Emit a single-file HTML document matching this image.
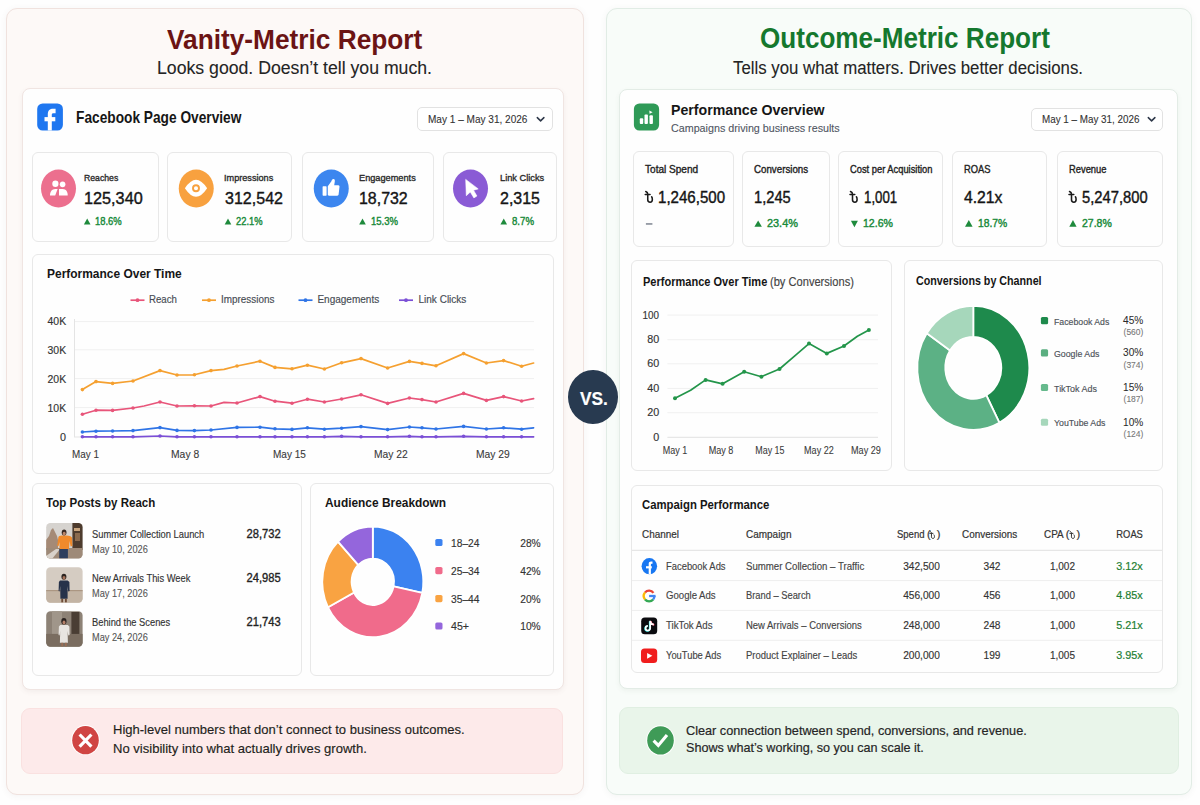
<!DOCTYPE html>
<html><head><meta charset="utf-8">
<style>
html,body{margin:0;padding:0}
body{width:1200px;height:805px;position:relative;overflow:hidden;background:#fefefe;font-family:"Liberation Sans",sans-serif}
.a{position:absolute;box-sizing:border-box}
.t{position:absolute;white-space:pre;font-family:"Liberation Sans",sans-serif}
</style></head><body>
<div class="a" style="left:5.50px;top:7.60px;width:578.60px;height:787.20px;border-radius:11px;background:#fdf9f7;border:1px solid #f0e2de;box-shadow:0 1px 6px rgba(110,100,100,0.07);"></div>
<div class="a" style="left:605.75px;top:8.00px;width:586.35px;height:786.80px;border-radius:11px;background:#f8fcf9;border:1px solid #e1ece5;box-shadow:0 1px 6px rgba(100,110,100,0.07);"></div>
<div class="a" style="left:22.25px;top:88.25px;width:541.45px;height:601.55px;border-radius:8px;background:#fefefe;border:1px solid #f0e5e2;box-shadow:0 2px 5px rgba(120,90,90,0.07);"></div>
<div class="a" style="left:618.75px;top:88.50px;width:558.75px;height:600.50px;border-radius:8px;background:#fefefe;border:1px solid #e3ece6;box-shadow:0 2px 5px rgba(90,120,90,0.07);"></div>
<div class="a" style="left:416.50px;top:107.25px;width:136.50px;height:23.75px;border-radius:5px;background:#fff;border:1px solid #e2e2e2;"></div>
<div class="a" style="left:1030.90px;top:107.90px;width:132.20px;height:22.90px;border-radius:5px;background:#fff;border:1px solid #e2e2e2;"></div>
<div class="a" style="left:32.20px;top:151.80px;width:127.30px;height:90.70px;border-radius:6px;background:#fefefe;border:1px solid #e8e8e8;"></div>
<div class="a" style="left:167.20px;top:151.80px;width:125.00px;height:90.70px;border-radius:6px;background:#fefefe;border:1px solid #e8e8e8;"></div>
<div class="a" style="left:301.50px;top:151.80px;width:132.70px;height:90.70px;border-radius:6px;background:#fefefe;border:1px solid #e8e8e8;"></div>
<div class="a" style="left:442.80px;top:151.80px;width:114.40px;height:90.70px;border-radius:6px;background:#fefefe;border:1px solid #e8e8e8;"></div>
<div class="a" style="left:632.80px;top:151.00px;width:101.70px;height:95.80px;border-radius:6px;background:#fefefe;border:1px solid #e8e8e8;"></div>
<div class="a" style="left:742.00px;top:151.00px;width:87.50px;height:95.80px;border-radius:6px;background:#fefefe;border:1px solid #e8e8e8;"></div>
<div class="a" style="left:838.00px;top:151.00px;width:104.50px;height:95.80px;border-radius:6px;background:#fefefe;border:1px solid #e8e8e8;"></div>
<div class="a" style="left:952.00px;top:151.00px;width:95.00px;height:95.80px;border-radius:6px;background:#fefefe;border:1px solid #e8e8e8;"></div>
<div class="a" style="left:1056.50px;top:151.00px;width:106.30px;height:95.80px;border-radius:6px;background:#fefefe;border:1px solid #e8e8e8;"></div>
<div class="a" style="left:32.00px;top:253.75px;width:521.90px;height:219.75px;border-radius:6px;background:#fefefe;border:1px solid #e8e8e8;"></div>
<div class="a" style="left:32.20px;top:483.30px;width:269.70px;height:192.70px;border-radius:6px;background:#fefefe;border:1px solid #e8e8e8;"></div>
<div class="a" style="left:309.80px;top:483.30px;width:244.10px;height:192.80px;border-radius:6px;background:#fefefe;border:1px solid #e8e8e8;"></div>
<div class="a" style="left:631.20px;top:260.30px;width:261.20px;height:210.40px;border-radius:6px;background:#fefefe;border:1px solid #e8e8e8;"></div>
<div class="a" style="left:903.60px;top:260.30px;width:259.20px;height:210.40px;border-radius:6px;background:#fefefe;border:1px solid #e8e8e8;"></div>
<div class="a" style="left:631.20px;top:485.10px;width:531.60px;height:188.30px;border-radius:6px;background:#fefefe;border:1px solid #e8e8e8;"></div>
<div class="a" style="left:21.30px;top:707.50px;width:542.20px;height:66.75px;border-radius:9px;background:#fdeaea;border:1px solid #fae1e0;"></div>
<div class="a" style="left:618.75px;top:707.00px;width:560.15px;height:66.80px;border-radius:9px;background:#e9f5ea;border:1px solid #e0efe2;"></div>
<div class="a" style="left:567.90px;top:370.30px;width:49.70px;height:54.00px;border-radius:50%;background:#283a50;"></div>
<svg class="a" style="left:0;top:0" width="1200" height="805" viewBox="0 0 1200 805"><line x1="75" y1="321.6" x2="534" y2="321.6" stroke="#f0f0f0" stroke-width="1"/><line x1="75" y1="349.8" x2="534" y2="349.8" stroke="#f0f0f0" stroke-width="1"/><line x1="75" y1="378.6" x2="534" y2="378.6" stroke="#f0f0f0" stroke-width="1"/><line x1="75" y1="407.6" x2="534" y2="407.6" stroke="#f0f0f0" stroke-width="1"/><line x1="75" y1="437" x2="534" y2="437" stroke="#e4e4e4" stroke-width="1"/><line x1="74.5" y1="319" x2="74.5" y2="437.5" stroke="#e4e4e4" stroke-width="1"/><polyline points="82.4,389.6 96.0,381.6 112.6,383.4 133.0,381.0 160.0,370.6 177.0,375.0 194.4,374.8 211.0,370.6 224.0,369.4 237.0,366.0 260.0,361.2 275.0,367.4 292.0,368.8 307.4,365.2 324.4,369.0 341.6,362.8 361.0,358.6 387.6,368.0 409.4,361.4 422.0,363.4 436.0,365.8 463.6,353.6 486.4,363.0 503.6,360.6 521.6,366.2 533.6,363.0" fill="none" stroke="#f5a030" stroke-width="1.7" stroke-linejoin="round" stroke-linecap="round"/><circle cx="82.4" cy="389.6" r="1.8" fill="#f5a030"/><circle cx="96.0" cy="381.6" r="1.8" fill="#f5a030"/><circle cx="112.6" cy="383.4" r="1.8" fill="#f5a030"/><circle cx="133.0" cy="381.0" r="1.8" fill="#f5a030"/><circle cx="160.0" cy="370.6" r="1.8" fill="#f5a030"/><circle cx="177.0" cy="375.0" r="1.8" fill="#f5a030"/><circle cx="194.4" cy="374.8" r="1.8" fill="#f5a030"/><circle cx="211.0" cy="370.6" r="1.8" fill="#f5a030"/><circle cx="237.0" cy="366.0" r="1.8" fill="#f5a030"/><circle cx="260.0" cy="361.2" r="1.8" fill="#f5a030"/><circle cx="275.0" cy="367.4" r="1.8" fill="#f5a030"/><circle cx="292.0" cy="368.8" r="1.8" fill="#f5a030"/><circle cx="307.4" cy="365.2" r="1.8" fill="#f5a030"/><circle cx="324.4" cy="369.0" r="1.8" fill="#f5a030"/><circle cx="341.6" cy="362.8" r="1.8" fill="#f5a030"/><circle cx="361.0" cy="358.6" r="1.8" fill="#f5a030"/><circle cx="387.6" cy="368.0" r="1.8" fill="#f5a030"/><circle cx="409.4" cy="361.4" r="1.8" fill="#f5a030"/><circle cx="422.0" cy="363.4" r="1.8" fill="#f5a030"/><circle cx="436.0" cy="365.8" r="1.8" fill="#f5a030"/><circle cx="463.6" cy="353.6" r="1.8" fill="#f5a030"/><circle cx="486.4" cy="363.0" r="1.8" fill="#f5a030"/><circle cx="503.6" cy="360.6" r="1.8" fill="#f5a030"/><circle cx="521.6" cy="366.2" r="1.8" fill="#f5a030"/><polyline points="82.4,414.2 96.0,410.2 112.6,410.4 133.0,408.0 144.0,406.0 160.0,402.0 177.0,406.0 194.4,405.8 211.0,406.0 224.0,402.4 237.0,403.0 260.0,396.6 275.0,401.2 292.0,403.2 307.4,399.2 324.4,402.0 341.6,399.0 361.0,394.8 387.6,403.4 409.4,398.0 422.0,399.6 436.0,402.0 463.6,393.4 486.4,400.4 503.6,396.6 521.6,401.0 533.6,398.6" fill="none" stroke="#e8557a" stroke-width="1.7" stroke-linejoin="round" stroke-linecap="round"/><circle cx="82.4" cy="414.2" r="1.8" fill="#e8557a"/><circle cx="96.0" cy="410.2" r="1.8" fill="#e8557a"/><circle cx="112.6" cy="410.4" r="1.8" fill="#e8557a"/><circle cx="133.0" cy="408.0" r="1.8" fill="#e8557a"/><circle cx="160.0" cy="402.0" r="1.8" fill="#e8557a"/><circle cx="177.0" cy="406.0" r="1.8" fill="#e8557a"/><circle cx="194.4" cy="405.8" r="1.8" fill="#e8557a"/><circle cx="211.0" cy="406.0" r="1.8" fill="#e8557a"/><circle cx="237.0" cy="403.0" r="1.8" fill="#e8557a"/><circle cx="260.0" cy="396.6" r="1.8" fill="#e8557a"/><circle cx="275.0" cy="401.2" r="1.8" fill="#e8557a"/><circle cx="292.0" cy="403.2" r="1.8" fill="#e8557a"/><circle cx="307.4" cy="399.2" r="1.8" fill="#e8557a"/><circle cx="324.4" cy="402.0" r="1.8" fill="#e8557a"/><circle cx="341.6" cy="399.0" r="1.8" fill="#e8557a"/><circle cx="361.0" cy="394.8" r="1.8" fill="#e8557a"/><circle cx="387.6" cy="403.4" r="1.8" fill="#e8557a"/><circle cx="409.4" cy="398.0" r="1.8" fill="#e8557a"/><circle cx="422.0" cy="399.6" r="1.8" fill="#e8557a"/><circle cx="436.0" cy="402.0" r="1.8" fill="#e8557a"/><circle cx="463.6" cy="393.4" r="1.8" fill="#e8557a"/><circle cx="486.4" cy="400.4" r="1.8" fill="#e8557a"/><circle cx="503.6" cy="396.6" r="1.8" fill="#e8557a"/><circle cx="521.6" cy="401.0" r="1.8" fill="#e8557a"/><polyline points="82.4,432.0 96.0,431.2 112.6,431.0 133.0,430.6 160.0,427.6 177.0,430.4 194.4,430.6 211.0,430.0 237.0,427.4 260.0,427.2 275.0,428.8 292.0,429.4 307.4,427.8 324.4,429.2 341.6,428.2 361.0,426.6 387.6,429.6 409.4,427.0 422.0,427.8 436.0,429.0 463.6,426.4 486.4,429.0 503.6,427.8 521.6,429.2 533.6,427.8" fill="none" stroke="#2f74e6" stroke-width="1.7" stroke-linejoin="round" stroke-linecap="round"/><circle cx="82.4" cy="432.0" r="1.8" fill="#2f74e6"/><circle cx="96.0" cy="431.2" r="1.8" fill="#2f74e6"/><circle cx="112.6" cy="431.0" r="1.8" fill="#2f74e6"/><circle cx="133.0" cy="430.6" r="1.8" fill="#2f74e6"/><circle cx="160.0" cy="427.6" r="1.8" fill="#2f74e6"/><circle cx="177.0" cy="430.4" r="1.8" fill="#2f74e6"/><circle cx="194.4" cy="430.6" r="1.8" fill="#2f74e6"/><circle cx="211.0" cy="430.0" r="1.8" fill="#2f74e6"/><circle cx="237.0" cy="427.4" r="1.8" fill="#2f74e6"/><circle cx="260.0" cy="427.2" r="1.8" fill="#2f74e6"/><circle cx="275.0" cy="428.8" r="1.8" fill="#2f74e6"/><circle cx="292.0" cy="429.4" r="1.8" fill="#2f74e6"/><circle cx="307.4" cy="427.8" r="1.8" fill="#2f74e6"/><circle cx="324.4" cy="429.2" r="1.8" fill="#2f74e6"/><circle cx="341.6" cy="428.2" r="1.8" fill="#2f74e6"/><circle cx="361.0" cy="426.6" r="1.8" fill="#2f74e6"/><circle cx="387.6" cy="429.6" r="1.8" fill="#2f74e6"/><circle cx="409.4" cy="427.0" r="1.8" fill="#2f74e6"/><circle cx="422.0" cy="427.8" r="1.8" fill="#2f74e6"/><circle cx="436.0" cy="429.0" r="1.8" fill="#2f74e6"/><circle cx="463.6" cy="426.4" r="1.8" fill="#2f74e6"/><circle cx="486.4" cy="429.0" r="1.8" fill="#2f74e6"/><circle cx="503.6" cy="427.8" r="1.8" fill="#2f74e6"/><circle cx="521.6" cy="429.2" r="1.8" fill="#2f74e6"/><polyline points="82.4,436.8 96.0,436.8 112.6,436.8 133.0,436.8 160.0,436.0 177.0,436.8 194.4,436.8 211.0,436.8 237.0,436.8 260.0,436.8 275.0,436.8 292.0,436.8 307.4,436.8 324.4,436.8 341.6,436.3 361.0,436.8 387.6,436.8 409.4,436.3 422.0,436.8 436.0,436.8 463.6,436.3 486.4,436.8 503.6,436.8 521.6,436.8 533.6,436.8" fill="none" stroke="#7b4fd6" stroke-width="1.7" stroke-linejoin="round" stroke-linecap="round"/><circle cx="82.4" cy="436.8" r="1.8" fill="#7b4fd6"/><circle cx="96.0" cy="436.8" r="1.8" fill="#7b4fd6"/><circle cx="112.6" cy="436.8" r="1.8" fill="#7b4fd6"/><circle cx="133.0" cy="436.8" r="1.8" fill="#7b4fd6"/><circle cx="160.0" cy="436.0" r="1.8" fill="#7b4fd6"/><circle cx="177.0" cy="436.8" r="1.8" fill="#7b4fd6"/><circle cx="194.4" cy="436.8" r="1.8" fill="#7b4fd6"/><circle cx="211.0" cy="436.8" r="1.8" fill="#7b4fd6"/><circle cx="237.0" cy="436.8" r="1.8" fill="#7b4fd6"/><circle cx="260.0" cy="436.8" r="1.8" fill="#7b4fd6"/><circle cx="275.0" cy="436.8" r="1.8" fill="#7b4fd6"/><circle cx="292.0" cy="436.8" r="1.8" fill="#7b4fd6"/><circle cx="307.4" cy="436.8" r="1.8" fill="#7b4fd6"/><circle cx="324.4" cy="436.8" r="1.8" fill="#7b4fd6"/><circle cx="341.6" cy="436.3" r="1.8" fill="#7b4fd6"/><circle cx="361.0" cy="436.8" r="1.8" fill="#7b4fd6"/><circle cx="387.6" cy="436.8" r="1.8" fill="#7b4fd6"/><circle cx="409.4" cy="436.3" r="1.8" fill="#7b4fd6"/><circle cx="422.0" cy="436.8" r="1.8" fill="#7b4fd6"/><circle cx="436.0" cy="436.8" r="1.8" fill="#7b4fd6"/><circle cx="463.6" cy="436.3" r="1.8" fill="#7b4fd6"/><circle cx="486.4" cy="436.8" r="1.8" fill="#7b4fd6"/><circle cx="503.6" cy="436.8" r="1.8" fill="#7b4fd6"/><circle cx="521.6" cy="436.8" r="1.8" fill="#7b4fd6"/><line x1="130.5" y1="300.2" x2="144.5" y2="300.2" stroke="#e8557a" stroke-width="1.7"/><circle cx="137.5" cy="300.2" r="1.9" fill="#e8557a"/><line x1="202" y1="300.2" x2="216" y2="300.2" stroke="#f5a030" stroke-width="1.7"/><circle cx="209" cy="300.2" r="1.9" fill="#f5a030"/><line x1="298.5" y1="300.2" x2="312.5" y2="300.2" stroke="#2f74e6" stroke-width="1.7"/><circle cx="305.5" cy="300.2" r="1.9" fill="#2f74e6"/><line x1="399" y1="300.2" x2="413" y2="300.2" stroke="#7b4fd6" stroke-width="1.7"/><circle cx="406" cy="300.2" r="1.9" fill="#7b4fd6"/><line x1="667.4" y1="315.1" x2="878" y2="315.1" stroke="#f0f0f0" stroke-width="1"/><line x1="667.4" y1="339.7" x2="878" y2="339.7" stroke="#f0f0f0" stroke-width="1"/><line x1="667.4" y1="363.8" x2="878" y2="363.8" stroke="#f0f0f0" stroke-width="1"/><line x1="667.4" y1="388.4" x2="878" y2="388.4" stroke="#f0f0f0" stroke-width="1"/><line x1="667.4" y1="412.7" x2="878" y2="412.7" stroke="#f0f0f0" stroke-width="1"/><line x1="667.4" y1="437.3" x2="878" y2="437.3" stroke="#e2e2e2" stroke-width="1"/><polyline points="675.0,398.2 690.6,390.3 705.6,379.9 722.6,383.8 744.2,371.7 761.4,376.7 779.5,369.0 794.5,356.1 809.0,343.6 826.8,353.4 844.0,346.0 857.4,336.2 868.9,329.9" fill="none" stroke="#23954a" stroke-width="1.7" stroke-linejoin="round" stroke-linecap="round"/><circle cx="675.0" cy="398.2" r="2.0" fill="#23954a"/><circle cx="705.6" cy="379.9" r="2.0" fill="#23954a"/><circle cx="722.6" cy="383.8" r="2.0" fill="#23954a"/><circle cx="744.2" cy="371.7" r="2.0" fill="#23954a"/><circle cx="761.4" cy="376.7" r="2.0" fill="#23954a"/><circle cx="779.5" cy="369.0" r="2.0" fill="#23954a"/><circle cx="809.0" cy="343.6" r="2.0" fill="#23954a"/><circle cx="826.8" cy="353.4" r="2.0" fill="#23954a"/><circle cx="844.0" cy="346.0" r="2.0" fill="#23954a"/><circle cx="868.9" cy="329.9" r="2.0" fill="#23954a"/><path d="M372.80,526.50 A50.5,55.3 0 0 1 422.29,592.83 L393.58,586.43 A21.21,23.226 0 0 0 372.80,558.57 Z" fill="#3b82f0" stroke="#fff" stroke-width="1.8" stroke-linejoin="miter"/><path d="M422.29,592.83 A50.5,55.3 0 0 1 328.01,607.33 L353.99,592.52 A21.21,23.226 0 0 0 393.58,586.43 Z" fill="#f06b8b" stroke="#fff" stroke-width="1.8" stroke-linejoin="miter"/><path d="M328.01,607.33 A50.5,55.3 0 0 1 338.04,541.69 L358.20,564.95 A21.21,23.226 0 0 0 353.99,592.52 Z" fill="#f9a342" stroke="#fff" stroke-width="1.8" stroke-linejoin="miter"/><path d="M338.04,541.69 A50.5,55.3 0 0 1 372.80,526.50 L372.80,558.57 A21.21,23.226 0 0 0 358.20,564.95 Z" fill="#9466dc" stroke="#fff" stroke-width="1.8" stroke-linejoin="miter"/><path d="M973.30,305.80 A56,62 0 0 1 999.33,422.69 L986.32,395.25 A28.0,31.0 0 0 0 973.30,336.80 Z" fill="#1e8a4c" stroke="#fff" stroke-width="1.8" stroke-linejoin="miter"/><path d="M999.33,422.69 A56,62 0 0 1 926.76,333.31 L950.03,350.55 A28.0,31.0 0 0 0 986.32,395.25 Z" fill="#5cb185" stroke="#fff" stroke-width="1.8" stroke-linejoin="miter"/><path d="M926.76,333.31 A56,62 0 0 1 973.30,305.80 L973.30,336.80 A28.0,31.0 0 0 0 950.03,350.55 Z" fill="#a6d7bb" stroke="#fff" stroke-width="1.8" stroke-linejoin="miter"/><rect x="435.3" y="538.9" width="7.2" height="7.2" rx="1.6" fill="#3b82f0"/><rect x="435.3" y="567.0" width="7.2" height="7.2" rx="1.6" fill="#f06b8b"/><rect x="435.3" y="595.0" width="7.2" height="7.2" rx="1.6" fill="#f9a342"/><rect x="435.3" y="622.4" width="7.2" height="7.2" rx="1.6" fill="#9466dc"/><rect x="1040.9" y="317.1" width="7.2" height="7.1" rx="1.5" fill="#1e8a4c"/><rect x="1040.9" y="349.3" width="7.2" height="7.1" rx="1.5" fill="#5aae80"/><rect x="1040.9" y="384.0" width="7.2" height="7.1" rx="1.5" fill="#66b98c"/><rect x="1040.9" y="418.7" width="7.2" height="7.1" rx="1.5" fill="#a6d7bb"/><ellipse cx="58.5" cy="188.5" rx="17.5" ry="19" fill="#ec6f8e"/><ellipse cx="196.25" cy="188.5" rx="17.5" ry="19" fill="#f8a13f"/><ellipse cx="331.25" cy="188.5" rx="17.5" ry="19" fill="#3c86ef"/><ellipse cx="470.5" cy="188.5" rx="17.5" ry="19" fill="#8a5bd5"/><line x1="632" y1="550.3" x2="1162" y2="550.3" stroke="#e6e6e6" stroke-width="1.2"/><line x1="632" y1="580.6" x2="1162" y2="580.6" stroke="#eeeeee" stroke-width="1"/><line x1="632" y1="610.4" x2="1162" y2="610.4" stroke="#eeeeee" stroke-width="1"/><line x1="632" y1="640.3" x2="1162" y2="640.3" stroke="#eeeeee" stroke-width="1"/><ellipse cx="85.5" cy="740.15" rx="14.3" ry="15.15" fill="#fff"/><ellipse cx="85.5" cy="740.15" rx="13.3" ry="14.15" fill="#d04543"/><path d="M79.6,734.5 L91.4,746.6 M91.4,734.5 L79.6,746.6" stroke="#fff" stroke-width="3.2" stroke-linecap="butt"/><ellipse cx="660.5" cy="740.4" rx="14.3" ry="15.2" fill="#fff"/><ellipse cx="660.5" cy="740.4" rx="13.3" ry="14.2" fill="#3f9b57"/><path d="M653.6,740.6 L658.3,745.4 L667,735" fill="none" stroke="#fff" stroke-width="3.1" stroke-linecap="butt" stroke-linejoin="miter"/><rect x="37.2" y="103.4" width="25.7" height="27.1" rx="5.5" fill="#1f77f0"/><path d="M47.8,130.5 L47.8,114.2 C47.8,110.6 49.9,108.8 53.2,108.8 L55.6,108.8 L55.6,113.3 L53.4,113.3 C52.3,113.3 51.8,113.8 51.8,114.8 L51.8,130.5 Z" fill="#fff"/><rect x="44.5" y="117.1" width="10.8" height="4.2" fill="#fff"/><ellipse cx="55.4" cy="183.7" rx="3.1" ry="3.2" fill="#fff"/><ellipse cx="62.6" cy="184.3" rx="2.8" ry="2.9" fill="#fff"/><path d="M50,195.4 C50,191.5 52,189 55.2,188.9 L57.6,188.9 L55.2,195.4 Z" fill="#fff"/><path d="M59,188.9 L62.8,188.9 C66,189 67.7,191.5 67.7,195.4 L59,195.4 Z" fill="#fff"/><path d="M184.9,188.3 Q196,171.3 207.1,188.3 Q196,205.3 184.9,188.3 Z" fill="#fff"/><circle cx="196" cy="188.3" r="3" fill="none" stroke="#f8a13f" stroke-width="1.9"/><rect x="322.6" y="186.3" width="4" height="9.4" rx="0.6" fill="#fff"/><path d="M327.8,186.2 L331.4,181.2 C331.9,179.6 332.6,178.9 333.6,179 C334.7,179.2 335,180.2 334.8,181.6 L334.2,185.2 L338.3,185.2 C339.3,185.2 339.6,186 339.5,186.8 L338.6,194.6 C338.5,195.3 338,195.7 337.3,195.7 L329,195.7 C328.3,195.7 327.8,195.2 327.8,194.5 Z" fill="#fff"/><path d="M465.7,179.4 L466.3,195.7 L470.3,192 L473.9,197.9 L476.9,196 L473.5,190.2 L478.2,188.9 Z" fill="#fff" stroke="#fff" stroke-width="0.6" stroke-linejoin="round"/><rect x="633.9" y="103.4" width="25.2" height="27.1" rx="5.5" fill="#2f9a57"/><rect x="639.8" y="118.3" width="3.4" height="5.7" rx="0.9" fill="#fff"/><rect x="644.5" y="114.5" width="3.4" height="9.5" rx="0.9" fill="#fff"/><rect x="649.5" y="115.3" width="3.4" height="8.7" rx="0.9" fill="#fff"/><path d="M649.3,110.6 L652.6,112.2 L649.6,113.8 Z" fill="#fff"/><path d="M537.3000000000001,117.6 L540.6,120.9 L543.9,117.6" fill="none" stroke="#2d3748" stroke-width="1.5" stroke-linecap="round" stroke-linejoin="round"/><path d="M1148.3,117.6 L1151.6,120.9 L1154.8999999999999,117.6" fill="none" stroke="#2d3748" stroke-width="1.5" stroke-linecap="round" stroke-linejoin="round"/><path d="M87.20,218.5 L90.5,224.5 L83.9,224.5 Z" fill="#1e8a3c"/><path d="M228.00,218.5 L231.3,224.5 L224.7,224.5 Z" fill="#1e8a3c"/><path d="M362.50,218.5 L365.8,224.5 L359.2,224.5 Z" fill="#1e8a3c"/><path d="M503.75,218.5 L507.05,224.5 L500.45,224.5 Z" fill="#1e8a3c"/><path d="M758.15,220.4 L761.9,226.7 L754.4,226.7 Z" fill="#1e8a3c"/><path d="M850.9,220.7 L857.9,220.7 L854.40,227.3 Z" fill="#1e8a3c"/><path d="M968.80,220.1 L972.6,226.7 L965,226.7 Z" fill="#1e8a3c"/><path d="M1072.95,220.1 L1076.6,226.7 L1069.3,226.7 Z" fill="#1e8a3c"/><rect x="645.9" y="223.3" width="6.5" height="1.3" fill="#6b7280"/><path d="M645.75,191.50 C646.85,191.99 647.75,192.69 647.75,194.08 L647.75,199.83 C647.75,201.61 648.75,202.20 650.15,202.20 C651.65,202.20 652.35,201.11 652.35,199.53 C652.35,198.14 652.05,197.35 651.65,196.85 M645.25,194.47 L650.05,194.47" fill="none" stroke="#1a1a1a" stroke-width="1.55" stroke-linecap="round"/><path d="M850.50,191.50 C851.60,191.99 852.50,192.69 852.50,194.08 L852.50,199.83 C852.50,201.61 853.50,202.20 854.90,202.20 C856.40,202.20 857.10,201.11 857.10,199.53 C857.10,198.14 856.80,197.35 856.40,196.85 M850.00,194.47 L854.80,194.47" fill="none" stroke="#1a1a1a" stroke-width="1.55" stroke-linecap="round"/><path d="M1069.50,191.50 C1070.60,191.99 1071.50,192.69 1071.50,194.08 L1071.50,199.83 C1071.50,201.61 1072.50,202.20 1073.90,202.20 C1075.40,202.20 1076.10,201.11 1076.10,199.53 C1076.10,198.14 1075.80,197.35 1075.40,196.85 M1069.00,194.47 L1073.80,194.47" fill="none" stroke="#1a1a1a" stroke-width="1.55" stroke-linecap="round"/><path d="M930.13,531.43 C930.85,531.75 931.44,532.20 931.44,533.10 L931.44,536.83 C931.44,537.99 932.10,538.38 933.02,538.38 C934.01,538.38 934.47,537.67 934.47,536.64 C934.47,535.74 934.27,535.23 934.01,534.90 M929.80,533.36 L932.96,533.36" fill="none" stroke="#333" stroke-width="1.0" stroke-linecap="round"/><path d="M1070.13,531.43 C1070.85,531.75 1071.44,532.20 1071.44,533.10 L1071.44,536.83 C1071.44,537.99 1072.10,538.38 1073.02,538.38 C1074.01,538.38 1074.47,537.67 1074.47,536.64 C1074.47,535.74 1074.27,535.23 1074.01,534.90 M1069.80,533.36 L1072.96,533.36" fill="none" stroke="#333" stroke-width="1.0" stroke-linecap="round"/><ellipse cx="649.35" cy="566.2" rx="7.75" ry="8.1" fill="#1877f2"/><path d="M648.7,574.3 L648.7,563.8 C648.7,562.3 649.6,561.6 651,561.6 L652.5,561.6 L652.5,563.7 L651.6,563.7 C651.1,563.7 650.9,564 650.9,564.5 L650.9,574.3 Z" fill="#fff"/><rect x="646" y="566.2" width="5.8" height="2.2" fill="#fff"/><path d="M645.04,592.59 A5.3,5.3 0 0 1 653.44,592.96" fill="none" stroke="#ea4335" stroke-width="2.3"/><path d="M645.04,599.41 A5.3,5.3 0 0 1 645.04,592.59" fill="none" stroke="#fbbc05" stroke-width="2.3"/><path d="M653.16,599.41 A5.3,5.3 0 0 1 645.04,599.41" fill="none" stroke="#34a853" stroke-width="2.3"/><path d="M654.40,596.00 A5.3,5.3 0 0 1 653.16,599.41" fill="none" stroke="#4285f4" stroke-width="2.3"/><rect x="649.1" y="594.85" width="6.449999999999999" height="2.3" fill="#4285f4"/><rect x="641.2" y="617.6" width="16" height="16.7" rx="3.6" fill="#0b0b0f"/><path d="M650.2,620.8 L650.2,628.2 A2.3,2.3 0 1 1 647.9,625.9" fill="none" stroke="#25f4ee" stroke-width="1.7" transform="translate(-0.5,0.4)"/><path d="M650.2,620.8 C650.4,622.9 651.6,624.2 653.8,624.6" fill="none" stroke="#fe2c55" stroke-width="1.7" transform="translate(0.5,0.3)"/><path d="M650.2,620.8 L650.2,628.2 A2.3,2.3 0 1 1 647.9,625.9 M650.2,620.8 C650.4,622.9 651.6,624.2 653.8,624.6" fill="none" stroke="#fff" stroke-width="1.7"/><rect x="641" y="648.5" width="16.2" height="14.6" rx="3.6" fill="#f01d1d"/><path d="M647.1,652.9 L652.4,655.8 L647.1,658.7 Z" fill="#fff"/><clipPath id="c1"><rect x="46.2" y="523" width="36.4" height="35.5" rx="4.2"/></clipPath><g clip-path="url(#c1)"><rect x="46" y="523" width="37" height="36" fill="#d6d3cf"/><path d="M46,540 L49,536 L51,530 L53,528 L55,532 L57,536 L58,540 L58,550 L46,550 Z" fill="#a58a76"/><rect x="72.4" y="523" width="10.5" height="27" fill="#4d3b2d"/><rect x="74" y="528" width="6" height="3" fill="#c9a57e"/><rect x="75" y="533" width="5" height="8" fill="#8a6a4e"/><rect x="46" y="548" width="37" height="11" fill="#9e8a78"/><path d="M46,556 L56,549 L60,549 L52,559 L46,559 Z" fill="#d9d2ca"/><rect x="59.2" y="548.5" width="8.7" height="10" fill="#2e3f5e"/><path d="M58.4,537 C59.5,535.6 61,535.6 64,535.6 C67,535.6 70.5,535.6 72,537.5 L72.4,546 L70.6,546.5 L69.6,541 L69,549 L59.5,549 L59.5,542 L58.6,546 L57.2,546 Z" fill="#f08a2b"/><ellipse cx="64.1" cy="532.5" rx="2.4" ry="3" fill="#3a2a22"/><ellipse cx="64.2" cy="533.6" rx="1.5" ry="1.9" fill="#b98468"/></g><clipPath id="c2"><rect x="46.2" y="567.3" width="36.4" height="35.5" rx="4.2"/></clipPath><g clip-path="url(#c2)"><rect x="46" y="567" width="37" height="36" fill="#d5ccc2"/><rect x="46" y="590.4" width="37" height="13" fill="#c3b4a4"/><rect x="46" y="590" width="37" height="1.2" fill="#ab9682"/><path d="M58.9,582 L60,580.4 L67.6,580.4 L69.4,582 L69.6,591 L68.2,591.5 L67.6,586 L67.6,598.8 L60.4,598.8 L60.2,586 L59.6,591.5 L58.6,591 Z" fill="#26324a"/><rect x="61.3" y="598.8" width="1.8" height="3.6" fill="#6d4a36"/><rect x="65" y="598.8" width="1.8" height="3.6" fill="#6d4a36"/><ellipse cx="63.9" cy="576.8" rx="2.5" ry="3" fill="#2b2420"/><ellipse cx="64" cy="577.8" rx="1.5" ry="1.9" fill="#a8735a"/></g><clipPath id="c3"><rect x="46.2" y="611.3" width="36.4" height="35.5" rx="4.2"/></clipPath><g clip-path="url(#c3)"><rect x="46" y="611" width="37" height="36" fill="#8d8276"/><rect x="52" y="611" width="10" height="23" fill="#a0968a"/><rect x="71.4" y="612" width="8" height="22" fill="#4a3e34"/><rect x="46" y="633.9" width="37" height="13" fill="#7a6d60"/><path d="M58.9,626.5 L60.3,625 L67.8,625 L69.4,626.5 L69.6,635 L68.3,635.5 L67.6,631 L67.9,642.8 L59.9,642.8 L60.2,631 L59.6,635.5 L58.6,635 Z" fill="#e8e5e1"/><rect x="61.3" y="642.8" width="1.8" height="3.7" fill="#9a6e55"/><rect x="65" y="642.8" width="1.8" height="3.7" fill="#9a6e55"/><ellipse cx="63.9" cy="621.3" rx="2.6" ry="3.2" fill="#2a2220"/><ellipse cx="64" cy="622.4" rx="1.5" ry="1.9" fill="#b58068"/></g></svg>
<span class="t" style="left:166.70px;top:24.78px;font-size:28.49px;line-height:28.49px;color:#6b1414;font-weight:700;transform:scaleX(0.9216);transform-origin:left top;">Vanity-Metric Report</span>
<span class="t" style="left:157.00px;top:59.12px;font-size:18.75px;line-height:18.75px;color:#242424;-webkit-text-stroke:0.1px #242424;transform:scaleX(0.9423);transform-origin:left top;">Looks good. Doesn’t tell you much.</span>
<span class="t" style="left:76.00px;top:109.91px;font-size:15.70px;line-height:15.70px;color:#161616;font-weight:700;transform:scaleX(0.8741);transform-origin:left top;">Facebook Page Overview</span>
<span class="t" style="left:428.00px;top:113.89px;font-size:10.76px;line-height:10.76px;color:#333;-webkit-text-stroke:0.1px #333;transform:scaleX(0.9349);transform-origin:left top;">May 1 – May 31, 2026</span>
<span class="t" style="left:83.75px;top:173.05px;font-size:9.74px;line-height:9.74px;color:#2a2a2a;-webkit-text-stroke:0.35px #2a2a2a;transform:scaleX(0.8911);transform-origin:left top;">Reaches</span>
<span class="t" style="left:223.75px;top:173.05px;font-size:9.74px;line-height:9.74px;color:#2a2a2a;-webkit-text-stroke:0.35px #2a2a2a;transform:scaleX(0.9382);transform-origin:left top;">Impressions</span>
<span class="t" style="left:358.75px;top:173.05px;font-size:9.74px;line-height:9.74px;color:#2a2a2a;-webkit-text-stroke:0.35px #2a2a2a;transform:scaleX(0.9443);transform-origin:left top;">Engagements</span>
<span class="t" style="left:500.00px;top:173.05px;font-size:9.74px;line-height:9.74px;color:#2a2a2a;-webkit-text-stroke:0.35px #2a2a2a;transform:scaleX(0.9508);transform-origin:left top;">Link Clicks</span>
<span class="t" style="left:83.75px;top:190.28px;font-size:17.15px;line-height:17.15px;color:#151515;-webkit-text-stroke:0.4px #151515;transform:scaleX(0.9476);transform-origin:left top;">125,340</span>
<span class="t" style="left:224.50px;top:190.28px;font-size:17.15px;line-height:17.15px;color:#151515;-webkit-text-stroke:0.4px #151515;transform:scaleX(0.9355);transform-origin:left top;">312,542</span>
<span class="t" style="left:358.75px;top:190.28px;font-size:17.15px;line-height:17.15px;color:#151515;-webkit-text-stroke:0.4px #151515;transform:scaleX(0.9293);transform-origin:left top;">18,732</span>
<span class="t" style="left:500.00px;top:190.28px;font-size:17.15px;line-height:17.15px;color:#151515;-webkit-text-stroke:0.4px #151515;transform:scaleX(0.9319);transform-origin:left top;">2,315</span>
<span class="t" style="left:95.20px;top:216.42px;font-size:10.61px;line-height:10.61px;color:#188a3a;-webkit-text-stroke:0.4px #188a3a;transform:scaleX(0.8875);transform-origin:left top;">18.6%</span>
<span class="t" style="left:236.00px;top:216.42px;font-size:10.61px;line-height:10.61px;color:#188a3a;-webkit-text-stroke:0.4px #188a3a;transform:scaleX(0.8808);transform-origin:left top;">22.1%</span>
<span class="t" style="left:370.50px;top:216.42px;font-size:10.61px;line-height:10.61px;color:#188a3a;-webkit-text-stroke:0.4px #188a3a;transform:scaleX(0.8974);transform-origin:left top;">15.3%</span>
<span class="t" style="left:511.75px;top:216.42px;font-size:10.61px;line-height:10.61px;color:#188a3a;-webkit-text-stroke:0.4px #188a3a;transform:scaleX(0.9096);transform-origin:left top;">8.7%</span>
<span class="t" style="left:47.30px;top:268.12px;font-size:12.50px;line-height:12.50px;color:#161616;font-weight:700;transform:scaleX(0.9566);transform-origin:left top;">Performance Over Time</span>
<span class="t" style="left:149.00px;top:295.11px;font-size:10.03px;line-height:10.03px;color:#474c54;-webkit-text-stroke:0.15px #474c54;transform:scaleX(0.9658);transform-origin:left top;">Reach</span>
<span class="t" style="left:221.00px;top:295.11px;font-size:10.03px;line-height:10.03px;color:#474c54;-webkit-text-stroke:0.15px #474c54;transform:scaleX(0.9896);transform-origin:left top;">Impressions</span>
<span class="t" style="left:317.40px;top:295.11px;font-size:10.03px;line-height:10.03px;color:#474c54;-webkit-text-stroke:0.15px #474c54;">Engagements</span>
<span class="t" style="left:418.50px;top:295.11px;font-size:10.03px;line-height:10.03px;color:#474c54;-webkit-text-stroke:0.15px #474c54;">Link Clicks</span>
<span class="t" style="left:46.76px;top:315.59px;font-size:10.76px;line-height:10.76px;color:#333;-webkit-text-stroke:0.15px #333;transform:scaleX(0.9719);transform-origin:right top;">40K</span>
<span class="t" style="left:46.76px;top:344.59px;font-size:10.76px;line-height:10.76px;color:#333;-webkit-text-stroke:0.15px #333;transform:scaleX(0.9719);transform-origin:right top;">30K</span>
<span class="t" style="left:46.76px;top:373.59px;font-size:10.76px;line-height:10.76px;color:#333;-webkit-text-stroke:0.15px #333;transform:scaleX(0.9719);transform-origin:right top;">20K</span>
<span class="t" style="left:46.76px;top:402.59px;font-size:10.76px;line-height:10.76px;color:#333;-webkit-text-stroke:0.15px #333;transform:scaleX(0.9719);transform-origin:right top;">10K</span>
<span class="t" style="left:59.92px;top:431.59px;font-size:10.76px;line-height:10.76px;color:#333;-webkit-text-stroke:0.15px #333;">0</span>
<span class="t" style="left:71.60px;top:448.52px;font-size:10.61px;line-height:10.61px;color:#3a3a3a;-webkit-text-stroke:0.1px #3a3a3a;transform:scaleX(0.9309);transform-origin:left top;">May 1</span>
<span class="t" style="left:171.30px;top:448.52px;font-size:10.61px;line-height:10.61px;color:#3a3a3a;-webkit-text-stroke:0.1px #3a3a3a;transform:scaleX(0.9759);transform-origin:left top;">May 8</span>
<span class="t" style="left:272.70px;top:448.52px;font-size:10.61px;line-height:10.61px;color:#3a3a3a;-webkit-text-stroke:0.1px #3a3a3a;transform:scaleX(0.9455);transform-origin:left top;">May 15</span>
<span class="t" style="left:373.70px;top:448.52px;font-size:10.61px;line-height:10.61px;color:#3a3a3a;-webkit-text-stroke:0.1px #3a3a3a;transform:scaleX(0.9714);transform-origin:left top;">May 22</span>
<span class="t" style="left:475.50px;top:448.52px;font-size:10.61px;line-height:10.61px;color:#3a3a3a;-webkit-text-stroke:0.1px #3a3a3a;transform:scaleX(0.9714);transform-origin:left top;">May 29</span>
<span class="t" style="left:45.90px;top:497.19px;font-size:12.65px;line-height:12.65px;color:#161616;font-weight:700;transform:scaleX(0.9114);transform-origin:left top;">Top Posts by Reach</span>
<span class="t" style="left:92.00px;top:528.89px;font-size:10.76px;line-height:10.76px;color:#333;-webkit-text-stroke:0.15px #333;transform:scaleX(0.8696);transform-origin:left top;">Summer Collection Launch</span>
<span class="t" style="left:92.00px;top:543.59px;font-size:10.76px;line-height:10.76px;color:#555;-webkit-text-stroke:0.1px #555;transform:scaleX(0.8561);transform-origin:left top;">May 10, 2026</span>
<span class="t" style="left:242.81px;top:527.94px;font-size:12.35px;line-height:12.35px;color:#222;-webkit-text-stroke:0.35px #222;transform:scaleX(0.9051);transform-origin:right top;">28,732</span>
<span class="t" style="left:92.00px;top:572.89px;font-size:10.76px;line-height:10.76px;color:#333;-webkit-text-stroke:0.15px #333;transform:scaleX(0.8704);transform-origin:left top;">New Arrivals This Week</span>
<span class="t" style="left:92.00px;top:587.59px;font-size:10.76px;line-height:10.76px;color:#555;-webkit-text-stroke:0.1px #555;transform:scaleX(0.8561);transform-origin:left top;">May 17, 2026</span>
<span class="t" style="left:242.81px;top:571.94px;font-size:12.35px;line-height:12.35px;color:#222;-webkit-text-stroke:0.35px #222;transform:scaleX(0.9051);transform-origin:right top;">24,985</span>
<span class="t" style="left:92.00px;top:616.89px;font-size:10.76px;line-height:10.76px;color:#333;-webkit-text-stroke:0.15px #333;transform:scaleX(0.8660);transform-origin:left top;">Behind the Scenes</span>
<span class="t" style="left:92.00px;top:631.59px;font-size:10.76px;line-height:10.76px;color:#555;-webkit-text-stroke:0.1px #555;transform:scaleX(0.8561);transform-origin:left top;">May 24, 2026</span>
<span class="t" style="left:242.81px;top:615.94px;font-size:12.35px;line-height:12.35px;color:#222;-webkit-text-stroke:0.35px #222;transform:scaleX(0.9051);transform-origin:right top;">21,743</span>
<span class="t" style="left:324.80px;top:497.29px;font-size:12.65px;line-height:12.65px;color:#161616;font-weight:700;transform:scaleX(0.9425);transform-origin:left top;">Audience Breakdown</span>
<span class="t" style="left:450.50px;top:537.70px;font-size:11.34px;line-height:11.34px;color:#333;-webkit-text-stroke:0.15px #333;transform:scaleX(0.9040);transform-origin:left top;">18–24</span>
<span class="t" style="left:517.81px;top:537.70px;font-size:11.34px;line-height:11.34px;color:#333;-webkit-text-stroke:0.15px #333;transform:scaleX(0.9034);transform-origin:right top;">28%</span>
<span class="t" style="left:450.50px;top:565.60px;font-size:11.34px;line-height:11.34px;color:#333;-webkit-text-stroke:0.15px #333;transform:scaleX(0.9040);transform-origin:left top;">25–34</span>
<span class="t" style="left:517.81px;top:565.60px;font-size:11.34px;line-height:11.34px;color:#333;-webkit-text-stroke:0.15px #333;transform:scaleX(0.9034);transform-origin:right top;">42%</span>
<span class="t" style="left:450.50px;top:593.50px;font-size:11.34px;line-height:11.34px;color:#333;-webkit-text-stroke:0.15px #333;transform:scaleX(0.9040);transform-origin:left top;">35–44</span>
<span class="t" style="left:517.81px;top:593.50px;font-size:11.34px;line-height:11.34px;color:#333;-webkit-text-stroke:0.15px #333;transform:scaleX(0.9034);transform-origin:right top;">20%</span>
<span class="t" style="left:450.50px;top:621.40px;font-size:11.34px;line-height:11.34px;color:#333;-webkit-text-stroke:0.15px #333;transform:scaleX(0.9359);transform-origin:left top;">45+</span>
<span class="t" style="left:517.81px;top:621.40px;font-size:11.34px;line-height:11.34px;color:#333;-webkit-text-stroke:0.15px #333;transform:scaleX(0.9034);transform-origin:right top;">10%</span>
<span class="t" style="left:113.00px;top:724.47px;font-size:12.79px;line-height:12.79px;color:#231f20;-webkit-text-stroke:0.15px #231f20;transform:scaleX(1.0187);transform-origin:left top;">High-level numbers that don’t connect to business outcomes.</span>
<span class="t" style="left:113.00px;top:742.77px;font-size:12.79px;line-height:12.79px;color:#231f20;-webkit-text-stroke:0.15px #231f20;transform:scaleX(1.0209);transform-origin:left top;">No visibility into what actually drives growth.</span>
<span class="t" style="left:579.60px;top:389.55px;font-size:18.60px;line-height:18.60px;color:#fff;font-weight:700;-webkit-text-stroke:0.2px #fff;transform:scaleX(0.9304);transform-origin:left top;">VS.</span>
<span class="t" style="left:760.00px;top:24.33px;font-size:28.78px;line-height:28.78px;color:#15782e;font-weight:700;transform:scaleX(0.9068);transform-origin:left top;">Outcome-Metric Report</span>
<span class="t" style="left:732.50px;top:59.12px;font-size:18.75px;line-height:18.75px;color:#242424;-webkit-text-stroke:0.1px #242424;transform:scaleX(0.8957);transform-origin:left top;">Tells you what matters. Drives better decisions.</span>
<span class="t" style="left:670.50px;top:103.39px;font-size:14.53px;line-height:14.53px;color:#161616;font-weight:700;transform:scaleX(0.9759);transform-origin:left top;">Performance Overview</span>
<span class="t" style="left:670.50px;top:121.90px;font-size:11.63px;line-height:11.63px;color:#4f5562;-webkit-text-stroke:0.1px #4f5562;transform:scaleX(0.9226);transform-origin:left top;">Campaigns driving business results</span>
<span class="t" style="left:1041.50px;top:113.89px;font-size:10.76px;line-height:10.76px;color:#333;-webkit-text-stroke:0.1px #333;transform:scaleX(0.9161);transform-origin:left top;">May 1 – May 31, 2026</span>
<span class="t" style="left:645.00px;top:164.79px;font-size:10.17px;line-height:10.17px;color:#222;-webkit-text-stroke:0.35px #222;transform:scaleX(0.9909);transform-origin:left top;">Total Spend</span>
<span class="t" style="left:753.75px;top:164.79px;font-size:10.17px;line-height:10.17px;color:#222;-webkit-text-stroke:0.35px #222;transform:scaleX(0.9593);transform-origin:left top;">Conversions</span>
<span class="t" style="left:850.40px;top:164.79px;font-size:10.17px;line-height:10.17px;color:#222;-webkit-text-stroke:0.35px #222;transform:scaleX(0.9186);transform-origin:left top;">Cost per Acquisition</span>
<span class="t" style="left:964.00px;top:164.79px;font-size:10.17px;line-height:10.17px;color:#222;-webkit-text-stroke:0.35px #222;transform:scaleX(0.9190);transform-origin:left top;">ROAS</span>
<span class="t" style="left:1068.50px;top:164.79px;font-size:10.17px;line-height:10.17px;color:#222;-webkit-text-stroke:0.35px #222;transform:scaleX(0.9207);transform-origin:left top;">Revenue</span>
<span class="t" style="left:657.60px;top:188.84px;font-size:16.13px;line-height:16.13px;color:#151515;-webkit-text-stroke:0.4px #151515;transform:scaleX(0.9363);transform-origin:left top;">1,246,500</span>
<span class="t" style="left:753.75px;top:188.84px;font-size:16.13px;line-height:16.13px;color:#151515;-webkit-text-stroke:0.4px #151515;transform:scaleX(0.9102);transform-origin:left top;">1,245</span>
<span class="t" style="left:863.50px;top:188.84px;font-size:16.13px;line-height:16.13px;color:#151515;-webkit-text-stroke:0.4px #151515;transform:scaleX(0.8235);transform-origin:left top;">1,001</span>
<span class="t" style="left:964.00px;top:188.84px;font-size:16.13px;line-height:16.13px;color:#151515;-webkit-text-stroke:0.4px #151515;transform:scaleX(0.9754);transform-origin:left top;">4.21x</span>
<span class="t" style="left:1082.30px;top:188.84px;font-size:16.13px;line-height:16.13px;color:#151515;-webkit-text-stroke:0.4px #151515;transform:scaleX(0.9154);transform-origin:left top;">5,247,800</span>
<span class="t" style="left:766.90px;top:218.32px;font-size:10.61px;line-height:10.61px;color:#188a3a;-webkit-text-stroke:0.4px #188a3a;transform:scaleX(1.0271);transform-origin:left top;">23.4%</span>
<span class="t" style="left:863.00px;top:218.32px;font-size:10.61px;line-height:10.61px;color:#188a3a;-webkit-text-stroke:0.4px #188a3a;transform:scaleX(0.9938);transform-origin:left top;">12.6%</span>
<span class="t" style="left:978.00px;top:218.32px;font-size:10.61px;line-height:10.61px;color:#188a3a;-webkit-text-stroke:0.4px #188a3a;transform:scaleX(0.9739);transform-origin:left top;">18.7%</span>
<span class="t" style="left:1082.00px;top:218.32px;font-size:10.61px;line-height:10.61px;color:#188a3a;-webkit-text-stroke:0.4px #188a3a;transform:scaleX(0.9872);transform-origin:left top;">27.8%</span>
<span class="t" style="left:642.80px;top:275.54px;font-size:12.35px;line-height:12.35px;color:#161616;font-weight:700;transform:scaleX(0.8939);transform-origin:left top;">Performance Over Time</span>
<span class="t" style="left:770.00px;top:275.54px;font-size:12.35px;line-height:12.35px;color:#444;-webkit-text-stroke:0.15px #444;transform:scaleX(0.8996);transform-origin:left top;">(by Conversions)</span>
<span class="t" style="left:641.25px;top:309.69px;font-size:10.76px;line-height:10.76px;color:#333;-webkit-text-stroke:0.15px #333;transform:scaleX(0.9138);transform-origin:right top;">100</span>
<span class="t" style="left:647.24px;top:334.29px;font-size:10.76px;line-height:10.76px;color:#333;-webkit-text-stroke:0.15px #333;">80</span>
<span class="t" style="left:647.24px;top:358.39px;font-size:10.76px;line-height:10.76px;color:#333;-webkit-text-stroke:0.15px #333;">60</span>
<span class="t" style="left:647.24px;top:382.99px;font-size:10.76px;line-height:10.76px;color:#333;-webkit-text-stroke:0.15px #333;">40</span>
<span class="t" style="left:647.24px;top:407.29px;font-size:10.76px;line-height:10.76px;color:#333;-webkit-text-stroke:0.15px #333;">20</span>
<span class="t" style="left:653.22px;top:431.89px;font-size:10.76px;line-height:10.76px;color:#333;-webkit-text-stroke:0.15px #333;">0</span>
<span class="t" style="left:660.95px;top:446.16px;font-size:10.32px;line-height:10.32px;color:#3a3a3a;-webkit-text-stroke:0.08px #3a3a3a;transform:scaleX(0.8718);transform-origin:center top;">May 1</span>
<span class="t" style="left:707.20px;top:446.16px;font-size:10.32px;line-height:10.32px;color:#3a3a3a;-webkit-text-stroke:0.08px #3a3a3a;transform:scaleX(0.8789);transform-origin:center top;">May 8</span>
<span class="t" style="left:752.53px;top:446.16px;font-size:10.32px;line-height:10.32px;color:#3a3a3a;-webkit-text-stroke:0.08px #3a3a3a;transform:scaleX(0.8658);transform-origin:center top;">May 15</span>
<span class="t" style="left:801.53px;top:446.16px;font-size:10.32px;line-height:10.32px;color:#3a3a3a;-webkit-text-stroke:0.08px #3a3a3a;transform:scaleX(0.8776);transform-origin:center top;">May 22</span>
<span class="t" style="left:849.33px;top:446.16px;font-size:10.32px;line-height:10.32px;color:#3a3a3a;-webkit-text-stroke:0.08px #3a3a3a;transform:scaleX(0.8835);transform-origin:center top;">May 29</span>
<span class="t" style="left:916.30px;top:275.34px;font-size:12.35px;line-height:12.35px;color:#161616;font-weight:700;transform:scaleX(0.8678);transform-origin:left top;">Conversions by Channel</span>
<span class="t" style="left:1054.00px;top:316.70px;font-size:9.45px;line-height:9.45px;color:#4d5259;-webkit-text-stroke:0.15px #4d5259;transform:scaleX(0.9253);transform-origin:left top;">Facebook Ads</span>
<span class="t" style="left:1120.33px;top:314.05px;font-size:11.63px;line-height:11.63px;color:#2a2a2a;-webkit-text-stroke:0.05px #2a2a2a;transform:scaleX(0.8679);transform-origin:right top;">45%</span>
<span class="t" style="left:1121.20px;top:327.48px;font-size:9.59px;line-height:9.59px;color:#777;-webkit-text-stroke:0.1px #777;transform:scaleX(0.8841);transform-origin:right top;">(560)</span>
<span class="t" style="left:1054.00px;top:348.90px;font-size:9.45px;line-height:9.45px;color:#4d5259;-webkit-text-stroke:0.15px #4d5259;transform:scaleX(0.9314);transform-origin:left top;">Google Ads</span>
<span class="t" style="left:1120.33px;top:346.25px;font-size:11.63px;line-height:11.63px;color:#2a2a2a;-webkit-text-stroke:0.05px #2a2a2a;transform:scaleX(0.8679);transform-origin:right top;">30%</span>
<span class="t" style="left:1121.20px;top:359.68px;font-size:9.59px;line-height:9.59px;color:#777;-webkit-text-stroke:0.1px #777;transform:scaleX(0.8841);transform-origin:right top;">(374)</span>
<span class="t" style="left:1054.00px;top:383.60px;font-size:9.45px;line-height:9.45px;color:#4d5259;-webkit-text-stroke:0.15px #4d5259;transform:scaleX(0.9486);transform-origin:left top;">TikTok Ads</span>
<span class="t" style="left:1120.33px;top:380.95px;font-size:11.63px;line-height:11.63px;color:#2a2a2a;-webkit-text-stroke:0.05px #2a2a2a;transform:scaleX(0.8679);transform-origin:right top;">15%</span>
<span class="t" style="left:1121.20px;top:394.38px;font-size:9.59px;line-height:9.59px;color:#777;-webkit-text-stroke:0.1px #777;transform:scaleX(0.8841);transform-origin:right top;">(187)</span>
<span class="t" style="left:1054.00px;top:418.30px;font-size:9.45px;line-height:9.45px;color:#4d5259;-webkit-text-stroke:0.15px #4d5259;transform:scaleX(0.9277);transform-origin:left top;">YouTube Ads</span>
<span class="t" style="left:1120.33px;top:415.65px;font-size:11.63px;line-height:11.63px;color:#2a2a2a;-webkit-text-stroke:0.05px #2a2a2a;transform:scaleX(0.8679);transform-origin:right top;">10%</span>
<span class="t" style="left:1121.20px;top:429.08px;font-size:9.59px;line-height:9.59px;color:#777;-webkit-text-stroke:0.1px #777;transform:scaleX(0.8841);transform-origin:right top;">(124)</span>
<span class="t" style="left:642.40px;top:499.06px;font-size:12.21px;line-height:12.21px;color:#161616;font-weight:700;transform:scaleX(0.9295);transform-origin:left top;">Campaign Performance</span>
<span class="t" style="left:642.40px;top:529.86px;font-size:10.32px;line-height:10.32px;color:#333;-webkit-text-stroke:0.2px #333;transform:scaleX(0.9625);transform-origin:left top;">Channel</span>
<span class="t" style="left:746.00px;top:529.86px;font-size:10.32px;line-height:10.32px;color:#333;-webkit-text-stroke:0.2px #333;transform:scaleX(0.9673);transform-origin:left top;">Campaign</span>
<span class="t" style="left:896.70px;top:529.86px;font-size:10.32px;line-height:10.32px;color:#333;-webkit-text-stroke:0.2px #333;transform:scaleX(0.9215);transform-origin:left top;">Spend</span>
<span class="t" style="left:927.00px;top:529.29px;font-size:11.00px;line-height:11.00px;color:#333;-webkit-text-stroke:0.2px #333;">(</span>
<span class="t" style="left:936.80px;top:529.29px;font-size:11.00px;line-height:11.00px;color:#333;-webkit-text-stroke:0.2px #333;">)</span>
<span class="t" style="left:960.72px;top:529.86px;font-size:10.32px;line-height:10.32px;color:#333;-webkit-text-stroke:0.2px #333;transform:scaleX(0.9632);transform-origin:center top;">Conversions</span>
<span class="t" style="left:1043.70px;top:529.86px;font-size:10.32px;line-height:10.32px;color:#333;-webkit-text-stroke:0.2px #333;transform:scaleX(0.9582);transform-origin:left top;">CPA</span>
<span class="t" style="left:1065.80px;top:529.29px;font-size:11.00px;line-height:11.00px;color:#333;-webkit-text-stroke:0.2px #333;">(</span>
<span class="t" style="left:1076.50px;top:529.29px;font-size:11.00px;line-height:11.00px;color:#333;-webkit-text-stroke:0.2px #333;">)</span>
<span class="t" style="left:1115.38px;top:529.86px;font-size:10.32px;line-height:10.32px;color:#333;-webkit-text-stroke:0.2px #333;transform:scaleX(0.9061);transform-origin:center top;">ROAS</span>
<span class="t" style="left:666.00px;top:560.84px;font-size:10.76px;line-height:10.76px;color:#444;-webkit-text-stroke:0.15px #444;transform:scaleX(0.8743);transform-origin:left top;">Facebook Ads</span>
<span class="t" style="left:746.00px;top:560.84px;font-size:10.76px;line-height:10.76px;color:#444;-webkit-text-stroke:0.15px #444;transform:scaleX(0.8968);transform-origin:left top;">Summer Collection – Traffic</span>
<span class="t" style="left:901.12px;top:560.84px;font-size:10.76px;line-height:10.76px;color:#333;-webkit-text-stroke:0.15px #333;transform:scaleX(0.9452);transform-origin:right top;">342,500</span>
<span class="t" style="left:982.78px;top:560.84px;font-size:10.76px;line-height:10.76px;color:#333;-webkit-text-stroke:0.15px #333;transform:scaleX(0.9472);transform-origin:center top;">342</span>
<span class="t" style="left:1048.54px;top:560.84px;font-size:10.76px;line-height:10.76px;color:#333;-webkit-text-stroke:0.15px #333;transform:scaleX(0.9288);transform-origin:center top;">1,002</span>
<span class="t" style="left:1116.49px;top:560.60px;font-size:11.05px;line-height:11.05px;color:#1e7e34;-webkit-text-stroke:0.2px #1e7e34;transform:scaleX(0.9806);transform-origin:center top;">3.12x</span>
<span class="t" style="left:666.00px;top:590.34px;font-size:10.76px;line-height:10.76px;color:#444;-webkit-text-stroke:0.15px #444;transform:scaleX(0.8937);transform-origin:left top;">Google Ads</span>
<span class="t" style="left:746.00px;top:590.34px;font-size:10.76px;line-height:10.76px;color:#444;-webkit-text-stroke:0.15px #444;transform:scaleX(0.8670);transform-origin:left top;">Brand – Search</span>
<span class="t" style="left:901.12px;top:590.34px;font-size:10.76px;line-height:10.76px;color:#333;-webkit-text-stroke:0.15px #333;transform:scaleX(0.9452);transform-origin:right top;">456,000</span>
<span class="t" style="left:982.78px;top:590.34px;font-size:10.76px;line-height:10.76px;color:#333;-webkit-text-stroke:0.15px #333;transform:scaleX(0.9472);transform-origin:center top;">456</span>
<span class="t" style="left:1048.54px;top:590.34px;font-size:10.76px;line-height:10.76px;color:#333;-webkit-text-stroke:0.15px #333;transform:scaleX(0.9288);transform-origin:center top;">1,000</span>
<span class="t" style="left:1116.49px;top:590.10px;font-size:11.05px;line-height:11.05px;color:#1e7e34;-webkit-text-stroke:0.2px #1e7e34;transform:scaleX(0.9806);transform-origin:center top;">4.85x</span>
<span class="t" style="left:666.00px;top:620.34px;font-size:10.76px;line-height:10.76px;color:#444;-webkit-text-stroke:0.15px #444;transform:scaleX(0.9011);transform-origin:left top;">TikTok Ads</span>
<span class="t" style="left:746.00px;top:620.34px;font-size:10.76px;line-height:10.76px;color:#444;-webkit-text-stroke:0.15px #444;transform:scaleX(0.8806);transform-origin:left top;">New Arrivals – Conversions</span>
<span class="t" style="left:901.12px;top:620.34px;font-size:10.76px;line-height:10.76px;color:#333;-webkit-text-stroke:0.15px #333;transform:scaleX(0.9452);transform-origin:right top;">248,000</span>
<span class="t" style="left:982.78px;top:620.34px;font-size:10.76px;line-height:10.76px;color:#333;-webkit-text-stroke:0.15px #333;transform:scaleX(0.9472);transform-origin:center top;">248</span>
<span class="t" style="left:1048.54px;top:620.34px;font-size:10.76px;line-height:10.76px;color:#333;-webkit-text-stroke:0.15px #333;transform:scaleX(0.9288);transform-origin:center top;">1,000</span>
<span class="t" style="left:1116.49px;top:620.10px;font-size:11.05px;line-height:11.05px;color:#1e7e34;-webkit-text-stroke:0.2px #1e7e34;transform:scaleX(0.9806);transform-origin:center top;">5.21x</span>
<span class="t" style="left:666.00px;top:650.34px;font-size:10.76px;line-height:10.76px;color:#444;-webkit-text-stroke:0.15px #444;transform:scaleX(0.8719);transform-origin:left top;">YouTube Ads</span>
<span class="t" style="left:746.00px;top:650.34px;font-size:10.76px;line-height:10.76px;color:#444;-webkit-text-stroke:0.15px #444;transform:scaleX(0.8822);transform-origin:left top;">Product Explainer – Leads</span>
<span class="t" style="left:901.12px;top:650.34px;font-size:10.76px;line-height:10.76px;color:#333;-webkit-text-stroke:0.15px #333;transform:scaleX(0.9452);transform-origin:right top;">200,000</span>
<span class="t" style="left:982.78px;top:650.34px;font-size:10.76px;line-height:10.76px;color:#333;-webkit-text-stroke:0.15px #333;transform:scaleX(0.9472);transform-origin:center top;">199</span>
<span class="t" style="left:1048.54px;top:650.34px;font-size:10.76px;line-height:10.76px;color:#333;-webkit-text-stroke:0.15px #333;transform:scaleX(0.9288);transform-origin:center top;">1,005</span>
<span class="t" style="left:1116.49px;top:650.10px;font-size:11.05px;line-height:11.05px;color:#1e7e34;-webkit-text-stroke:0.2px #1e7e34;transform:scaleX(0.9806);transform-origin:center top;">3.95x</span>
<span class="t" style="left:686.25px;top:724.67px;font-size:12.79px;line-height:12.79px;color:#262626;-webkit-text-stroke:0.2px #262626;transform:scaleX(0.9929);transform-origin:left top;">Clear connection between spend, conversions, and revenue.</span>
<span class="t" style="left:686.25px;top:742.42px;font-size:12.79px;line-height:12.79px;color:#262626;-webkit-text-stroke:0.2px #262626;transform:scaleX(0.9856);transform-origin:left top;">Shows what’s working, so you can scale it.</span>
</body></html>
